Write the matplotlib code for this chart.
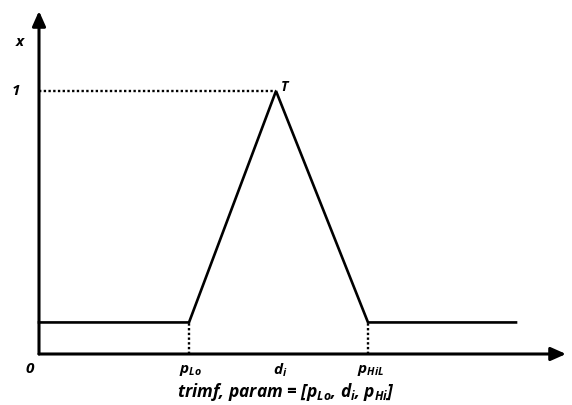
import matplotlib
matplotlib.use('Agg')
import matplotlib.pyplot as plt

# Schematic triangular membership function (trimf)
# x positions: origin, p_Lo, d_i, p_HiL, end of line
xs = [0, 150, 237, 329, 477]
mu = [0.12, 0.12, 1.0, 0.12, 0.12]
tick_pos = [151, 241, 332]
tick_labels = ['$p_{Lo}$', '$d_i$', '$p_{HiL}$']

fam = 'Open Sans'
plt.rcParams['mathtext.fontset'] = 'custom'
plt.rcParams['mathtext.it'] = fam + ':bold:italic'
plt.rcParams['mathtext.rm'] = fam + ':bold:italic'
plt.rcParams['mathtext.bf'] = fam + ':bold:italic'
font = dict(family=fam, weight='bold', style='italic')

fig = plt.figure(figsize=(5.72, 4.05), dpi=100)
ax = fig.add_axes([0, 0, 1, 1])
ax.set_xlim(-39, 533)
ax.set_ylim(-51 / 263, 354 / 263)
ax.axis('off')

# axes with arrows
head = '-|>,head_length=0.9,head_width=0.4'
ax.annotate('', xy=(527, 0), xytext=(0, 0),
            arrowprops=dict(arrowstyle=head, lw=2.2, color='black', shrinkA=0, shrinkB=0))
ax.annotate('', xy=(0, 343 / 263), xytext=(0, 0),
            arrowprops=dict(arrowstyle=head, lw=2.2, color='black', shrinkA=0, shrinkB=0))

# membership line
ax.plot(xs, mu, color='black', lw=1.9, solid_joinstyle='miter')

# dotted guides
dots = dict(color='black', lw=1.7, ls=(0, (1, 1)))
ax.plot([0, xs[2]], [1, 1], **dots)
ax.plot([xs[1], xs[1]], [0, mu[1]], **dots)
ax.plot([xs[3], xs[3]], [0, mu[3]], **dots)

# labels
ax.text(-19, 312 / 263, 'x', fontsize=11, ha='center', va='center', **font)
ax.text(-23, 1, '1', fontsize=11, ha='center', va='center', **font)
ax.text(xs[2] + 9, 1.015, 'T', fontsize=10, ha='center', va='center', **font)
ax.text(-9, -15 / 263, '0', fontsize=11, ha='center', va='center', **font)
for p, lab in zip(tick_pos, tick_labels):
    ax.text(p, -16 / 263, lab, fontsize=11, ha='center', va='center', **font)
ax.text(247, -38 / 263, 'trimf, param = [$p_{Lo}$, $d_i$, $p_{Hi}$]', fontsize=12.5,
        ha='center', va='center', **font)

fig.savefig('out.png', dpi=100)
